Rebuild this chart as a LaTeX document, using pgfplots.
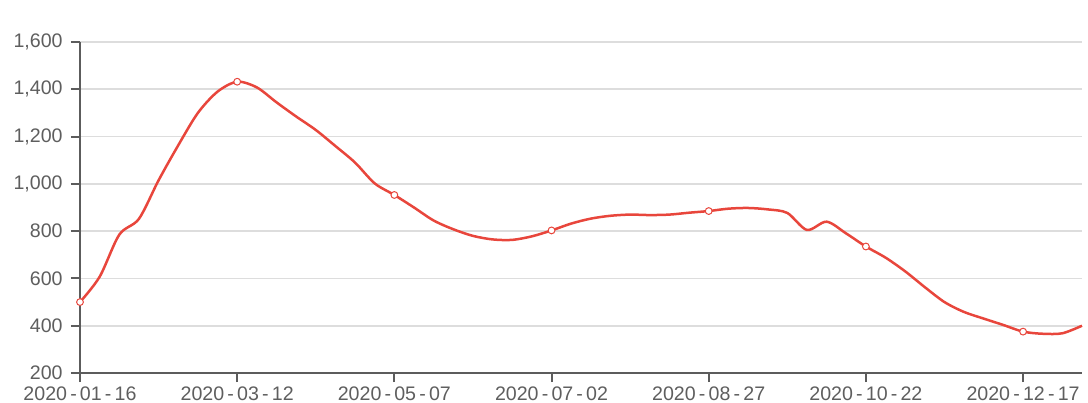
\documentclass[border=0pt]{standalone}
\usepackage{fontspec}
\setmainfont{Liberation Sans}
\usepackage{pgfplots}
\pgfplotsset{compat=1.18}
\usepackage{pgfplotstable}

\definecolor{linered}{HTML}{E8463C}
\definecolor{axisgray}{HTML}{5C5C5C}
\definecolor{labelgray}{HTML}{5E5E5E}
\definecolor{gridgray}{HTML}{DDDDDD}

% wider hyphen for the date labels
\newcommand{\hy}{\kern1.6pt-\kern1.6pt}

% weekly series, x = days after 2020-01-16
\pgfplotstableread{
d v
0 500
7 607
14 785
21 852
28 1015
35 1163
42 1300
49 1390
56 1432
63 1408
70 1345
77 1285
84 1228
91 1160
98 1090
105 1002
112 953
119 900
126 845
133 808
140 780
147 765
154 763
161 778
168 803
175 832
182 853
189 865
196 870
203 868
210 870
217 878
224 885
231 895
238 898
245 892
252 877
259 805
266 840
273 790
280 735
287 688
294 630
301 563
308 500
315 458
322 430
329 403
336 375
343 366
350 368
357 400
}\series

\begin{document}
\begin{tikzpicture}
\begin{axis}[
  scale only axis,
  width=501pt, height=165.5pt,
  xmin=0, xmax=357,
  ymin=200, ymax=1600,
  ytick={200,400,...,1600},
  xtick={0,56,112,168,224,280,336},
  xticklabels={2020\hy01\hy16,2020\hy03\hy12,2020\hy05\hy07,2020\hy07\hy02,2020\hy08\hy27,2020\hy10\hy22,2020\hy12\hy17},
  axis x line*=bottom,
  axis y line*=left,
  axis line style={axisgray, line width=1pt, -},
  tick style={axisgray, line width=1pt},
  tick align=outside,
  major tick length=4.5pt,
  ymajorgrids,
  grid style={gridgray, line width=0.8pt},
  /pgf/number format/assume math mode=true,
  /pgf/number format/1000 sep={,},
  ticklabel style={font=\fontsize{9.8}{11}\selectfont, text=labelgray, inner sep=0pt},
  yticklabel style={anchor=east, xshift=-4pt},
  xticklabel style={anchor=north, yshift=-2pt},
  clip=false,
]
\addplot[linered, line width=1.25pt, smooth, tension=0.5,
  mark=*, mark repeat=8,
  mark options={fill=white, draw=linered, line width=0.5pt, scale=0.85}]
  table[x=d, y=v] {\series};
\end{axis}
\pgfresetboundingbox
\path[use as bounding box] (-40pt,-14.5pt) rectangle (504pt,186.5pt);
\end{tikzpicture}
\end{document}
